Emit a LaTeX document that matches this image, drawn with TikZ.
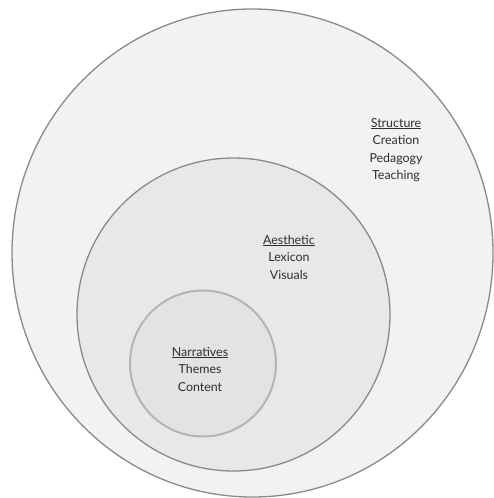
\documentclass[tikz,border=0pt]{standalone}
\usepackage{fontspec}
\setmainfont{Lato}
\usepackage{tikz}

\definecolor{ringline}{HTML}{8A8A8A}
\definecolor{coreline}{HTML}{B4B4B4}
\definecolor{ringtext}{HTML}{2E2E2E}

\begin{document}
\begin{tikzpicture}[x=1pt,y=-1pt,
  label/.style={align=center,text=ringtext,font=\fontsize{12.4}{17.5}\selectfont}]
\useasboundingbox (0,0) rectangle (494,498);
% outer ring
\filldraw[fill=black!5,draw=ringline,line width=1.3pt] (252.5,253) ellipse (240.5 and 244);
% middle ring
\filldraw[fill=black!9,draw=ringline,line width=1.3pt] (233.5,314.5) circle (156.5);
% core
\filldraw[fill=black!11,draw=coreline,line width=2pt] (203,363.5) circle (73);
\node[label] (structure) at (396,150) {\underline{Structure}\\Creation\\Pedagogy\\Teaching};
\node[label] (aesthetic) at (289,257) {\underline{Aesthetic}\\Lexicon\\Visuals};
\node[label] (narratives) at (200,369) {\underline{Narratives}\\Themes\\Content};
\end{tikzpicture}
\end{document}
